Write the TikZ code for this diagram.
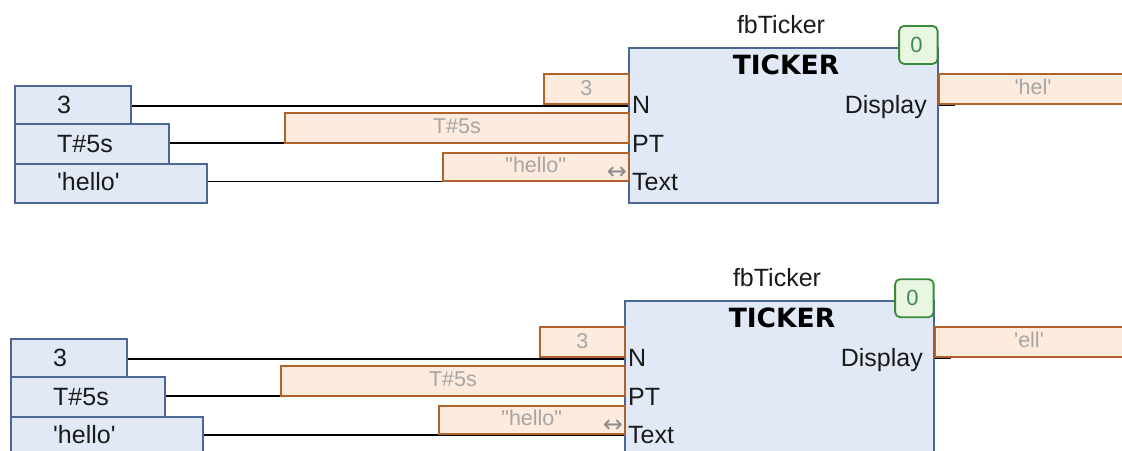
\documentclass[tikz,border=0pt]{standalone}
\usepackage{fontspec}
\setmainfont{Liberation Sans}
\newfontfamily\symfont{DejaVu Sans}
\newfontfamily\boldfamily{DejaVu Sans}
\definecolor{bluebd}{HTML}{4A6796}
\definecolor{bluefill}{HTML}{E1E9F6}
\definecolor{orbd}{HTML}{B0622A}
\definecolor{orfill}{HTML}{FDEBDD}
\definecolor{grtxt}{HTML}{A6A6A6}
\definecolor{gnbd}{HTML}{3A8A3A}
\definecolor{gnfill}{HTML}{E9F6E2}
\definecolor{gntxt}{HTML}{3F8A55}
\definecolor{txt}{HTML}{1A1A1A}
\tikzset{
  inbox/.style={draw=bluebd, fill=bluefill, line width=1.8pt, inner sep=0pt, anchor=north west},
  fbbox/.style={draw=bluebd, fill=bluefill, line width=1.8pt, inner sep=0pt, anchor=north west},
  valbox/.style={draw=orbd, fill=orfill, line width=1.8pt, inner sep=0pt, anchor=north west},
  cntbox/.style={draw=gnbd, fill=gnfill, line width=1.8pt, inner sep=0pt, rounded corners=5pt, anchor=north west},
  wire/.style={draw=black, line width=1.8pt},
  lbl/.style={inner sep=0pt, text=txt, font=\fontsize{25}{30}\selectfont},
  blbl/.style={inner sep=0pt, text=black, font=\boldfamily\fontsize{26.5}{30}\selectfont\bfseries},
  vlbl/.style={inner sep=0pt, text=grtxt, font=\fontsize{21.5}{26}\selectfont},
  glbl/.style={inner sep=0pt, text=gntxt, font=\fontsize{22}{26}\selectfont},
  arrlbl/.style={inner sep=0pt, text=grtxt!85!black, font=\symfont\fontsize{24}{26}\selectfont},
}
\newcommand\tickerblock[4]{%
\begin{scope}[shift={(#2,#3)}]
  % function block
  \node[fbbox, minimum width=308.7pt, minimum height=155pt] (#1fb) at (628,46.7) {};
  \node[cntbox, minimum width=38.5pt, minimum height=38pt] (#1cnt) at (898.2,25) {};
  \node[glbl, anchor=base] (#1cntt) at (916.5,52) {0};
  \node[lbl, anchor=base] (#1inst) at (781,33) {fbTicker};
  \node[blbl, anchor=base] (#1type) at (786,74) {TICKER};
  \node[lbl, anchor=base west] (#1pN) at (632,113) {N};
  \node[lbl, anchor=base west] (#1pPT) at (632,152) {PT};
  \node[lbl, anchor=base west] (#1pText) at (632,190) {Text};
  \node[lbl, anchor=base east] (#1pDisp) at (927,113) {Display};
  \coordinate (#1cN) at (628,105.7);
  \coordinate (#1cPT) at (628,143);
  \coordinate (#1cText) at (628,181.5);
  \coordinate (#1cOut) at (955,105.2);
  % inputs
  \node[inbox, minimum width=116pt, minimum height=37.7pt] (#1a) at (14,85) {};
  \node[inbox, minimum width=154pt, minimum height=40.3pt] (#1b) at (14,122.7) {};
  \node[inbox, minimum width=192pt, minimum height=38.7pt] (#1c) at (14,163) {};
  \node[lbl, anchor=base west] (#1at) at (57,113.5) {3};
  \node[lbl, anchor=base west] (#1bt) at (57,152.5) {T\#5s};
  \node[lbl, anchor=base west] (#1ct) at (57,190) {\textquotesingle hello\textquotesingle};
  % wires
  \draw[wire] (#1a.east |- #1cN) -- (#1cN);
  \draw[wire] (#1b.east |- #1cPT) -- (#1cPT);
  \draw[wire] (#1c.east |- #1cText) -- (#1cText);
  \draw[wire] (#1fb.east |- #1cOut) -- (#1cOut);
  % online values
  \node[valbox, minimum width=85.3pt, minimum height=30pt] (#1v1) at (542.7,72.7) {};
  \node[vlbl, anchor=base] (#1v1t) at (#1v1.center |- 0,95) {3};
  \node[valbox, minimum width=344pt, minimum height=30pt] (#1v2) at (284,111.7) {};
  \node[vlbl, anchor=base] (#1v2t) at (#1v2.center |- 0,133.5) {T\#5s};
  \node[valbox, minimum width=186.3pt, minimum height=28.3pt] (#1v3) at (441.7,151.7) {};
  \node[vlbl, anchor=base] (#1v3t) at (#1v3.center |- 0,172.5) {\textquotedbl hello\textquotedbl};
  \node[arrlbl] (#1arr) at (617,173) {↔};
  \node[valbox, minimum width=200pt, minimum height=30pt] (#1v4) at (938,73) {};
  \node[vlbl, anchor=base] (#1v4t) at (1033,94.5) {\textquotesingle #4\textquotesingle};
\end{scope}}
\begin{document}
\begin{tikzpicture}[x=1pt,y=-1pt]
\useasboundingbox (0,0) rectangle (1122,450);
\clip (0,0) rectangle (1122,450);
\fill[white] (0,0) rectangle (1122,450);
\tickerblock{t}{0}{0}{hel}
\tickerblock{u}{-4}{253.3}{ell}
\end{tikzpicture}
\end{document}
